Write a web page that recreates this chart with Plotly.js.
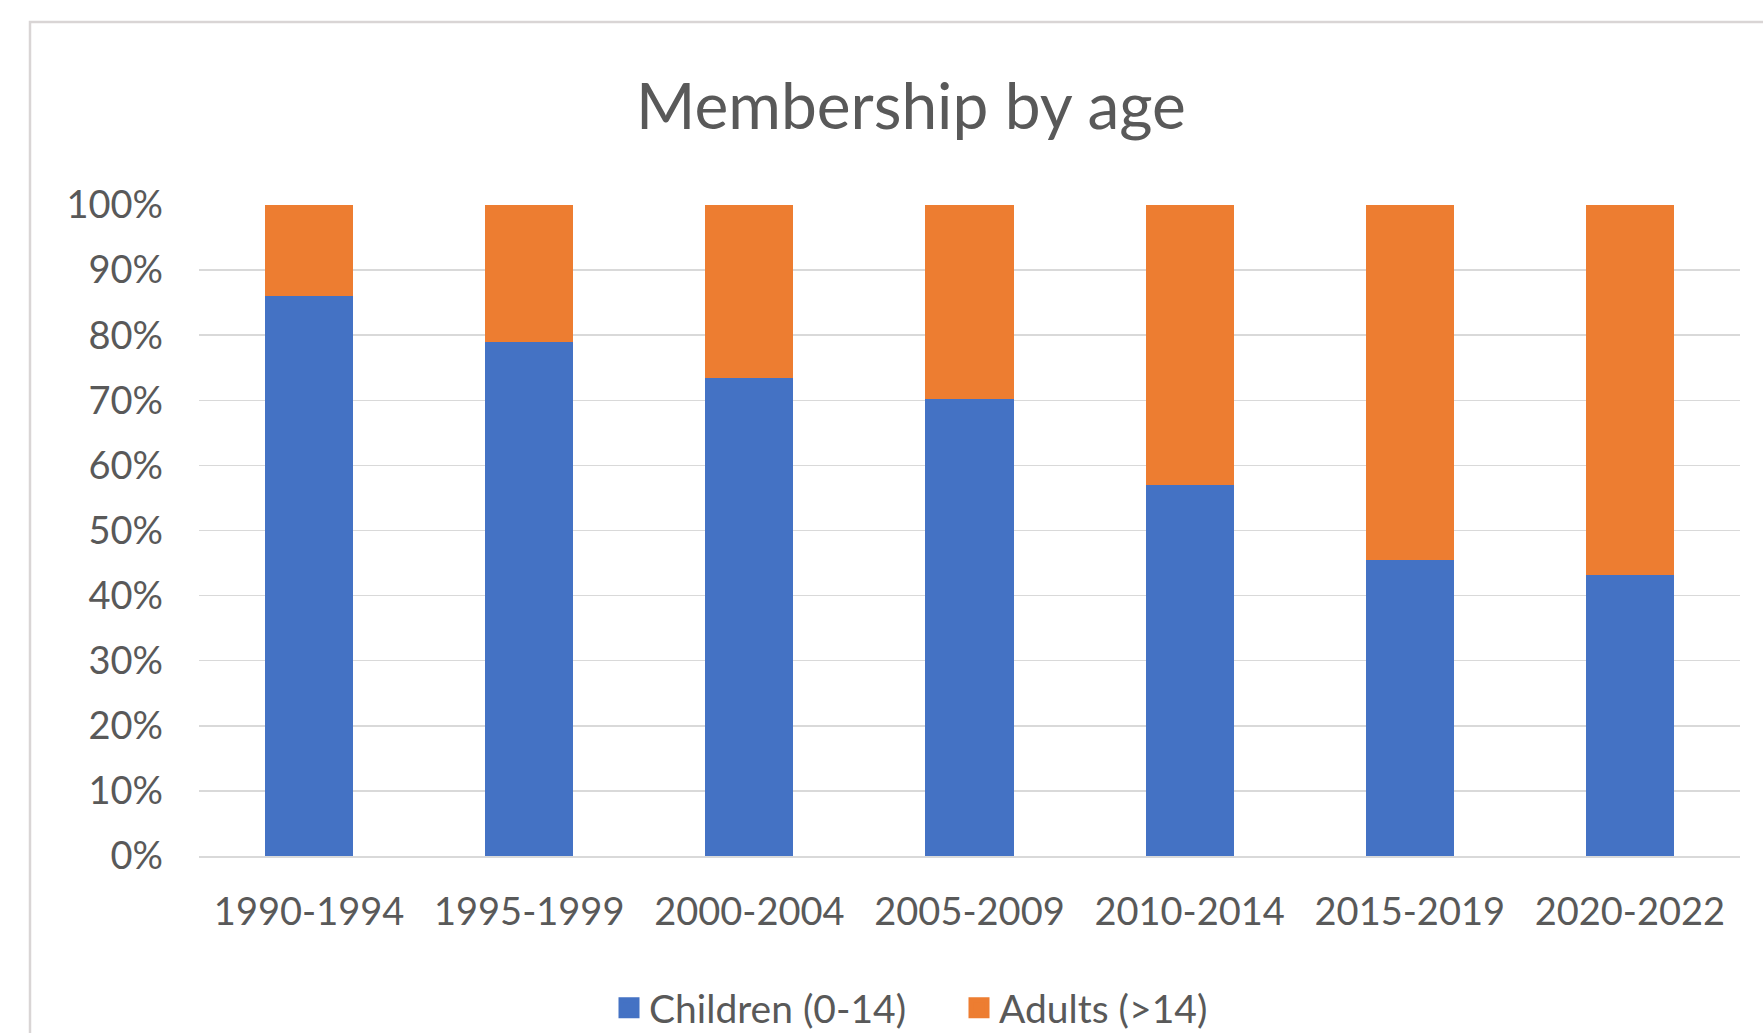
<!DOCTYPE html>
<html>
<head>
<meta charset="utf-8">
<script src="https://cdn.plot.ly/plotly-3.0.1.min.js"></script>
<style>
html,body{margin:0;padding:0;background:#ffffff;}
#chart{width:1763px;height:1033px;}
</style>
</head>
<body>
<div id="chart"></div>
<script>
const periods = ["1990-1994","1995-1999","2000-2004","2005-2009","2010-2014","2015-2019","2020-2022"];
const children = [86, 79, 73.5, 70.2, 57, 45.4, 43.1];
const adults = [14, 21, 26.5, 29.8, 43, 54.6, 56.9];
const seriesNames = ["Children (0-14)", "Adults (>14)"];
const yTickVals = [0,10,20,30,40,50,60,70,80,90,100];
const yTickText = ["0%","10%","20%","30%","40%","50%","60%","70%","80%","90%","100%"];

const W = 1763, H = 1033;
const ml = 199, mr = 23, mt = 205, mb = 177;
const pw = W - ml - mr, ph = H - mt - mb;

const textColor = "#595959";
const fontFam = "Lato, 'Open Sans', sans-serif";
const colors = ["#4472c4", "#ed7d31"];

const traces = [
  {type:"bar", name:seriesNames[0], x:periods, y:children, marker:{color:colors[0]}, showlegend:false, legendgroup:"c"},
  {type:"bar", name:seriesNames[1], x:periods, y:adults, marker:{color:colors[1]}, showlegend:false, legendgroup:"a"},
  // legend-only entries (no data) so the legend swatches can be larger squares
  {type:"scatter", mode:"markers", name:seriesNames[0], x:[null], y:[null], legendgroup:"c",
   marker:{symbol:"square", size:16, color:colors[0], line:{color:colors[0], width:5}}},
  {type:"scatter", mode:"markers", name:seriesNames[1], x:[null], y:[null], legendgroup:"a",
   marker:{symbol:"square", size:16, color:colors[1], line:{color:colors[1], width:5}}}
];

const layout = {
  width:W, height:H,
  margin:{l:ml, r:mr, t:mt, b:mb},
  paper_bgcolor:"#ffffff",
  plot_bgcolor:"#ffffff",
  barmode:"stack",
  bargap:0.6,
  title:{text:"Membership by age", x:911/W, xref:"container", xanchor:"center", y:1-107/H, yref:"container", yanchor:"middle",
         font:{family:fontFam, size:64, color:textColor}},
  xaxis:{type:"category", showgrid:false, showline:true, linecolor:"#d9d9d9", linewidth:1.5,
         ticks:"", tickfont:{family:fontFam, size:38, color:textColor}, ticklabelstandoff:22},
  yaxis:{range:[0,100], tickvals:yTickVals, ticktext:yTickText, showgrid:true, gridcolor:"#d9d9d9", gridwidth:1.5,
         zeroline:false, showline:false, ticks:"", tickfont:{family:fontFam, size:38, color:textColor}, ticklabelstandoff:35},
  showlegend:true,
  legend:{orientation:"h", xref:"container", yref:"container", x:959/W, xanchor:"center", y:1-1008/H, yanchor:"middle",
          font:{family:fontFam, size:39, color:textColor}, itemwidth:30, traceorder:"normal", itemsizing:"trace",
          entrywidth:305, entrywidthmode:"pixels", borderwidth:0},
  shapes:[{type:"rect", xref:"paper", yref:"paper", layer:"below",
           x0:(30-ml)/pw, x1:(W+20-ml)/pw, y0:-(H+20-(H-mb))/ph, y1:((H-mb)-22)/ph,
           line:{color:"#d9d5d5", width:2.5}, fillcolor:"rgba(0,0,0,0)"}]
};

Plotly.newPlot("chart", traces, layout, {displayModeBar:false, staticPlot:true});
</script>
</body>
</html>
